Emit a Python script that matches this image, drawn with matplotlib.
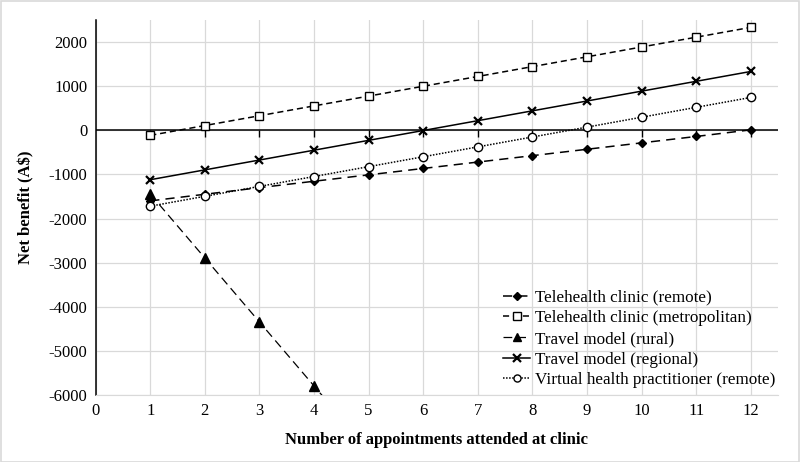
import matplotlib
matplotlib.use("Agg")
import matplotlib.pyplot as plt
from matplotlib.patches import Rectangle

plt.rcParams['font.family'] = ['Liberation Serif', 'DejaVu Serif']
plt.rcParams['axes.unicode_minus'] = False

appointments = [1, 2, 3, 4, 5, 6, 7, 8, 9, 10, 11, 12]
tele_remote = [-1600, -1450, -1300, -1155, -1010, -865, -720, -575, -430, -285, -140, 10]
tele_metro = [-115, 108, 330, 553, 775, 998, 1220, 1443, 1665, 1888, 2110, 2333]
travel_rural = [-1445, -2895, -4345, -5795, -7245, -8695, -10145, -11595, -13045, -14495, -15945, -17395]
travel_regional = [-1120, -897, -674, -451, -228, -5, 218, 441, 664, 887, 1110, 1333]
virtual_remote = [-1720, -1496, -1272, -1048, -824, -600, -376, -152, 72, 296, 520, 744]

labels = ["Telehealth clinic (remote)", "Telehealth clinic (metropolitan)",
          "Travel model (rural)", "Travel model (regional)",
          "Virtual health practitioner (remote)"]
x_ticks = list(range(0, 13))
y_ticks = [-6000, -5000, -4000, -3000, -2000, -1000, 0, 1000, 2000]

fig = plt.figure(figsize=(8, 4.62), dpi=100)
ax = fig.add_axes([95.7/800, 1-395/462, (778-95.7)/800, (395-20)/462])

ax.plot(appointments, tele_remote, color='black', linestyle=(0, (6, 4)), lw=1.1,
        marker='D', ms=4.5, mfc='black', label=labels[0], zorder=4)
ax.plot(appointments, tele_metro, color='black', linestyle=(0, (4, 2.5)), lw=1.1,
        marker='s', ms=6, mfc='white', mec='black', mew=1.0, label=labels[1], zorder=4)
ax.plot(appointments, travel_rural, color='black', linestyle=(0, (7, 4)), lw=0.9,
        marker='^', ms=6.5, mfc='black', label=labels[2], zorder=4)
ax.plot(appointments, travel_regional, color='black', linestyle='-', lw=1.1,
        marker='x', ms=6, mew=1.6, label=labels[3], zorder=4)
ax.plot(appointments, virtual_remote, color='black', linestyle=(0, (1, 1)), lw=1.1,
        marker='o', ms=6, mfc='white', mec='black', mew=1.0, label=labels[4], zorder=4)

ax.set_xlim(0, 12.5)
ax.set_ylim(-6000, 2500)
ax.set_xticks(x_ticks)
ax.set_yticks(y_ticks)
ax.grid(True, color='#d9d9d9', lw=0.9)
ax.set_axisbelow(True)
ax.tick_params(axis='both', length=0, labelsize=12, pad=6)

for side in ['top', 'right']:
    ax.spines[side].set_visible(False)
ax.spines['bottom'].set_color('#d9d9d9')
ax.spines['left'].set_color('black')
ax.spines['left'].set_linewidth(1.1)

ax.axhline(0, color='black', lw=1.1, zorder=3)
ax.plot(x_ticks[1:], [0]*len(x_ticks[1:]), linestyle='none', marker=3, ms=5,
        color='black', mew=1.0, zorder=3, clip_on=False)

ax.set_xlabel("Number of appointments attended at clinic", fontsize=12,
              fontweight='bold', labelpad=9)
ax.set_ylabel("Net benefit (A$)", fontsize=12, fontweight='bold', labelpad=10)

fig.legend(loc='upper left', bbox_to_anchor=(496/800, 1-283/462), frameon=False,
           fontsize=12.3, handlelength=1.6, handletextpad=0.3, labelspacing=0.27,
           borderaxespad=0, markerscale=0.85)

fig.patches.append(Rectangle((0.001, 0.001), 0.998, 0.997, transform=fig.transFigure,
                             fill=False, edgecolor='#d9d9d9', lw=1.2))

fig.savefig("out.png", dpi=100)
